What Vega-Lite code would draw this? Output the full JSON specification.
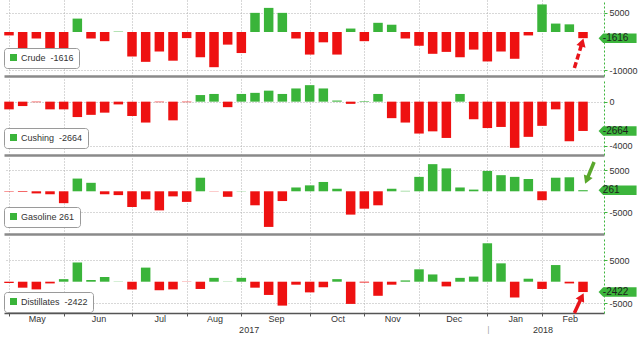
{
  "$schema": "https://vega.github.io/schema/vega-lite/v6.json",
  "padding": {"left": 3, "top": 0, "right": 0, "bottom": 0},
  "background": "white",
  "spacing": 3,
  "config": {
    "locale": {"number": {"decimal": ".", "thousands": ",", "grouping": [3], "currency": ["$", ""], "minus": "-"}},
    "view": {"stroke": null},
    "font": "Liberation Sans",
    "axis": {"labelFont": "Liberation Sans", "labelColor": "#333333", "labelFontSize": 9, "gridColor": "#b0b0b0", "gridDash": [1, 2], "gridWidth": 1},
    "legend": {"title": null, "fillColor": "white", "strokeColor": "#9a9a9a", "cornerRadius": 3, "padding": 5, "symbolType": "square", "symbolSize": 49, "symbolStrokeWidth": 0, "labelFont": "Liberation Sans", "labelFontSize": 9, "labelColor": "#333333", "labelOffset": 3}
  },
  "resolve": {"scale": {"color": "independent"}, "legend": {"color": "independent"}},
  "datasets": {
    "w": [
      {"i": 0, "week": "2017-04-28", "crude": -900, "cushing": -700, "gasoline": -100, "distillates": -300},
      {"i": 1, "week": "2017-05-05", "crude": -5200, "cushing": -400, "gasoline": -150, "distillates": -1400},
      {"i": 2, "week": "2017-05-12", "crude": -1700, "cushing": -50, "gasoline": -500, "distillates": -1800},
      {"i": 3, "week": "2017-05-19", "crude": -4400, "cushing": -700, "gasoline": -700, "distillates": -400},
      {"i": 4, "week": "2017-05-26", "crude": -6400, "cushing": -700, "gasoline": -2800, "distillates": 600},
      {"i": 5, "week": "2017-06-02", "crude": 3500, "cushing": -1400, "gasoline": 3000, "distillates": 4500},
      {"i": 6, "week": "2017-06-09", "crude": -1700, "cushing": -1200, "gasoline": 2000, "distillates": 400},
      {"i": 7, "week": "2017-06-16", "crude": -2400, "cushing": -1000, "gasoline": -700, "distillates": 1100},
      {"i": 8, "week": "2017-06-23", "crude": 100, "cushing": -250, "gasoline": -900, "distillates": 50},
      {"i": 9, "week": "2017-06-30", "crude": -6400, "cushing": -1300, "gasoline": -3700, "distillates": -1800},
      {"i": 10, "week": "2017-07-07", "crude": -7800, "cushing": -1900, "gasoline": -1900, "distillates": 3300},
      {"i": 11, "week": "2017-07-14", "crude": -5100, "cushing": -50, "gasoline": -4500, "distillates": -2000},
      {"i": 12, "week": "2017-07-21", "crude": -7500, "cushing": -1700, "gasoline": -1200, "distillates": -1800},
      {"i": 13, "week": "2017-07-28", "crude": -1600, "cushing": -50, "gasoline": -2500, "distillates": -50},
      {"i": 14, "week": "2017-08-04", "crude": -6600, "cushing": 600, "gasoline": 3200, "distillates": -1700},
      {"i": 15, "week": "2017-08-11", "crude": -9200, "cushing": 700, "gasoline": -50, "distillates": 900},
      {"i": 16, "week": "2017-08-18", "crude": -3300, "cushing": -500, "gasoline": -1300, "distillates": 50},
      {"i": 17, "week": "2017-08-25", "crude": -5500, "cushing": 700, "gasoline": 50, "distillates": 900},
      {"i": 18, "week": "2017-09-01", "crude": 5000, "cushing": 800, "gasoline": -3300, "distillates": -1400},
      {"i": 19, "week": "2017-09-08", "crude": 6300, "cushing": 1000, "gasoline": -8400, "distillates": -3100},
      {"i": 20, "week": "2017-09-15", "crude": 5000, "cushing": 700, "gasoline": -2300, "distillates": -5600},
      {"i": 21, "week": "2017-09-22", "crude": -1700, "cushing": 1200, "gasoline": 900, "distillates": -700},
      {"i": 22, "week": "2017-09-29", "crude": -5900, "cushing": 1500, "gasoline": 1400, "distillates": -2500},
      {"i": 23, "week": "2017-10-06", "crude": -2700, "cushing": 1200, "gasoline": 2200, "distillates": -1300},
      {"i": 24, "week": "2017-10-13", "crude": -5900, "cushing": 100, "gasoline": 600, "distillates": 600},
      {"i": 25, "week": "2017-10-20", "crude": 900, "cushing": -200, "gasoline": -5500, "distillates": -5200},
      {"i": 26, "week": "2017-10-27", "crude": -2400, "cushing": 50, "gasoline": -4100, "distillates": -200},
      {"i": 27, "week": "2017-11-03", "crude": 2400, "cushing": 700, "gasoline": -3300, "distillates": -3300},
      {"i": 28, "week": "2017-11-10", "crude": 1900, "cushing": -1500, "gasoline": 600, "distillates": -700},
      {"i": 29, "week": "2017-11-17", "crude": -1700, "cushing": -1900, "gasoline": 100, "distillates": 300},
      {"i": 30, "week": "2017-11-24", "crude": -3600, "cushing": -2900, "gasoline": 3400, "distillates": 2900},
      {"i": 31, "week": "2017-12-01", "crude": -5700, "cushing": -2700, "gasoline": 6400, "distillates": 1700},
      {"i": 32, "week": "2017-12-08", "crude": -5200, "cushing": -3300, "gasoline": 5400, "distillates": -1100},
      {"i": 33, "week": "2017-12-15", "crude": -6600, "cushing": 700, "gasoline": 900, "distillates": 900},
      {"i": 34, "week": "2017-12-22", "crude": -4600, "cushing": -1600, "gasoline": 400, "distillates": 1200},
      {"i": 35, "week": "2017-12-29", "crude": -7700, "cushing": -2400, "gasoline": 4800, "distillates": 9000},
      {"i": 36, "week": "2018-01-05", "crude": -5100, "cushing": -2300, "gasoline": 3800, "distillates": 4300},
      {"i": 37, "week": "2018-01-12", "crude": -7000, "cushing": -4200, "gasoline": 3400, "distillates": -3700},
      {"i": 38, "week": "2018-01-19", "crude": -900, "cushing": -3200, "gasoline": 2900, "distillates": 700},
      {"i": 39, "week": "2018-01-26", "crude": 7200, "cushing": -2200, "gasoline": -2100, "distillates": -1700},
      {"i": 40, "week": "2018-02-02", "crude": 2200, "cushing": -700, "gasoline": 3200, "distillates": 3900},
      {"i": 41, "week": "2018-02-09", "crude": 2000, "cushing": -3600, "gasoline": 3300, "distillates": -400},
      {"i": 42, "week": "2018-02-16", "crude": -1616, "cushing": -2664, "gasoline": 261, "distillates": -2422}
    ]
  },
  "vconcat": [
    {
      "width": 600, "height": 76,
      "layer": [
        {
          "data": {"name": "w"},
          "mark": {"type": "bar", "orient": "vertical", "width": 9.5, "clip": true},
          "encoding": {
            "x": {"field": "i", "type": "quantitative", "scale": {"domain": [0, 43.17], "nice": false, "zero": false},
                  "axis": {"title": null, "values": [0, 4, 9, 13, 17, 22, 26, 30, 35, 39], "labels": false, "ticks": false, "grid": true, "domainColor": "#8a8a8a", "domainWidth": 2.5}},
            "y": {"field": "crude", "type": "quantitative", "scale": {"domain": [-11500, 8360], "nice": false, "zero": false},
                  "axis": {"title": null, "orient": "right", "values": [-10000, -5000, 0, 5000], "format": "d", "grid": true, "tickSize": 3, "tickColor": "#3cb53c", "domainColor": "#3cb53c", "domainDash": [2, 2], "labelPadding": 2}},
            "y2": {"datum": 0},
            "color": {"datum": "Crude", "type": "nominal", "scale": {"range": ["#3ab43a"]},
                      "legend": {"orient": "none", "legendX": 0, "legendY": 48, "labelExpr": "'Crude\u00a0 -1616'"},
                      "condition": {"test": "datum.crude < 0", "value": "#ee1111"}}
          }
        },
        {
          "data": {"name": "w"}, "transform": [{"filter": "datum.i == 42"}],
          "mark": {"type": "point", "shape": "M-1,0L-0.76,-0.25L1,-0.25L1,0.25L-0.76,0.25Z", "filled": true, "size": 1444, "color": "#3cb53c", "opacity": 1, "strokeWidth": 0},
          "encoding": {"x": {"datum": 44.53}, "y": {"field": "crude", "type": "quantitative"}}
        },
        {
          "data": {"name": "w"}, "transform": [{"filter": "datum.i == 42"}],
          "mark": {"type": "text", "align": "left", "baseline": "middle", "fontSize": 10, "color": "#1e1e1e"},
          "encoding": {"x": {"datum": 43.45}, "y": {"field": "crude", "type": "quantitative"}, "text": {"field": "crude", "type": "quantitative", "format": "d"}}
        },
        {
          "data": {"values": [{"i": 41.37, "v": -9410, "i2": 41.94, "v2": -2740}]},
          "mark": {"type": "rule", "color": "#e8141a", "strokeWidth": 3.5, "strokeDash": [6, 3]},
          "encoding": {"x": {"field": "i", "type": "quantitative"}, "y": {"field": "v", "type": "quantitative"}, "x2": {"field": "i2"}, "y2": {"field": "v2"}}
        },
        {
          "data": {"values": [{"i": 41.94, "v": -2740}]},
          "mark": {"type": "point", "shape": "triangle-up", "filled": true, "size": 90, "angle": 17, "color": "#e8141a", "opacity": 1},
          "encoding": {"x": {"field": "i", "type": "quantitative"}, "y": {"field": "v", "type": "quantitative"}}
        }
      ]
    },
    {
      "width": 600, "height": 76,
      "layer": [
        {
          "data": {"name": "w"},
          "mark": {"type": "bar", "orient": "vertical", "width": 9.5, "clip": true},
          "encoding": {
            "x": {"field": "i", "type": "quantitative", "scale": {"domain": [0, 43.17], "nice": false, "zero": false},
                  "axis": {"title": null, "values": [0, 4, 9, 13, 17, 22, 26, 30, 35, 39], "labels": false, "ticks": false, "grid": true, "domainColor": "#8a8a8a", "domainWidth": 2.5}},
            "y": {"field": "cushing", "type": "quantitative", "scale": {"domain": [-4850, 2060], "nice": false, "zero": false},
                  "axis": {"title": null, "orient": "right", "values": [-4000, -2000, 0], "format": "d", "grid": true, "tickSize": 3, "tickColor": "#3cb53c", "domainColor": "#3cb53c", "domainDash": [2, 2], "labelPadding": 2}},
            "y2": {"datum": 0},
            "color": {"datum": "Cushing", "type": "nominal", "scale": {"range": ["#3ab43a"]},
                      "legend": {"orient": "none", "legendX": 0, "legendY": 49, "labelExpr": "'Cushing\u00a0 -2664'"},
                      "condition": {"test": "datum.cushing < 0", "value": "#ee1111"}}
          }
        },
        {
          "data": {"name": "w"}, "transform": [{"filter": "datum.i == 42"}],
          "mark": {"type": "point", "shape": "M-1,0L-0.76,-0.25L1,-0.25L1,0.25L-0.76,0.25Z", "filled": true, "size": 1444, "color": "#3cb53c", "opacity": 1, "strokeWidth": 0},
          "encoding": {"x": {"datum": 44.53}, "y": {"field": "cushing", "type": "quantitative"}}
        },
        {
          "data": {"name": "w"}, "transform": [{"filter": "datum.i == 42"}],
          "mark": {"type": "text", "align": "left", "baseline": "middle", "fontSize": 10, "color": "#1e1e1e"},
          "encoding": {"x": {"datum": 43.45}, "y": {"field": "cushing", "type": "quantitative"}, "text": {"field": "cushing", "type": "quantitative", "format": "d"}}
        }
      ]
    },
    {
      "width": 600, "height": 76,
      "layer": [
        {
          "data": {"name": "w"},
          "mark": {"type": "bar", "orient": "vertical", "width": 9.5, "clip": true},
          "encoding": {
            "x": {"field": "i", "type": "quantitative", "scale": {"domain": [0, 43.17], "nice": false, "zero": false},
                  "axis": {"title": null, "values": [0, 4, 9, 13, 17, 22, 26, 30, 35, 39], "labels": false, "ticks": false, "grid": true, "domainColor": "#8a8a8a", "domainWidth": 2.5}},
            "y": {"field": "gasoline", "type": "quantitative", "scale": {"domain": [-10070, 7850], "nice": false, "zero": false},
                  "axis": {"title": null, "orient": "right", "values": [-5000, 0, 5000], "format": "d", "grid": true, "tickSize": 3, "tickColor": "#3cb53c", "domainColor": "#3cb53c", "domainDash": [2, 2], "labelPadding": 2}},
            "y2": {"datum": 0},
            "color": {"datum": "Gasoline", "type": "nominal", "scale": {"range": ["#3ab43a"]},
                      "legend": {"orient": "none", "legendX": 0, "legendY": 49, "labelExpr": "'Gasoline 261'"},
                      "condition": {"test": "datum.gasoline < 0", "value": "#ee1111"}}
          }
        },
        {
          "data": {"name": "w"}, "transform": [{"filter": "datum.i == 42"}],
          "mark": {"type": "point", "shape": "M-1,0L-0.76,-0.25L1,-0.25L1,0.25L-0.76,0.25Z", "filled": true, "size": 1444, "color": "#3cb53c", "opacity": 1, "strokeWidth": 0},
          "encoding": {"x": {"datum": 44.53}, "y": {"field": "gasoline", "type": "quantitative"}}
        },
        {
          "data": {"name": "w"}, "transform": [{"filter": "datum.i == 42"}],
          "mark": {"type": "text", "align": "left", "baseline": "middle", "fontSize": 10, "color": "#1e1e1e"},
          "encoding": {"x": {"datum": 43.45}, "y": {"field": "gasoline", "type": "quantitative"}, "text": {"field": "gasoline", "type": "quantitative", "format": "d"}}
        },
        {
          "data": {"values": [{"i": 42.81, "v": 6910, "i2": 42.27, "v2": 2670}]},
          "mark": {"type": "rule", "color": "#5aa82c", "strokeWidth": 3.5},
          "encoding": {"x": {"field": "i", "type": "quantitative"}, "y": {"field": "v", "type": "quantitative"}, "x2": {"field": "i2"}, "y2": {"field": "v2"}}
        },
        {
          "data": {"values": [{"i": 42.27, "v": 2670}]},
          "mark": {"type": "point", "shape": "triangle-down", "filled": true, "size": 90, "angle": 22, "color": "#5aa82c", "opacity": 1},
          "encoding": {"x": {"field": "i", "type": "quantitative"}, "y": {"field": "v", "type": "quantitative"}}
        }
      ]
    },
    {
      "width": 600, "height": 76,
      "layer": [
        {
          "data": {"name": "w"},
          "mark": {"type": "bar", "orient": "vertical", "width": 9.5, "clip": true},
          "encoding": {
            "x": {"field": "i", "type": "quantitative", "scale": {"domain": [0, 43.17], "nice": false, "zero": false},
                  "axis": {"title": null,
                           "values": [0, 4, 9, 13, 15.5, 17, 22, 26, 30, 33, 35, 37, 39],
                           "labelExpr": "datum.value==0?'May':datum.value==4?'Jun':datum.value==9?'Jul':datum.value==13?'Aug':datum.value==17?'Sep':datum.value==22?'Oct':datum.value==26?'Nov':datum.value==30?'Dec':datum.value==35?'Jan':datum.value==39?'Feb':datum.value==15.5?['','2017']:datum.value==37?['','2018']:datum.value==33?['','|']:''",
                           "grid": true,
                           "gridOpacity": {"condition": {"test": "indexof([0,4,9,13,17,22,26,30,35,39], datum.value) >= 0", "value": 1}, "value": 0},
                           "ticks": true, "tickSize": 3, "tickColor": "#555555",
                           "tickOpacity": {"condition": {"test": "indexof([0,4,9,13,17,22,26,30,35,39], datum.value) >= 0", "value": 1}, "value": 0},
                           "labelColor": {"condition": {"test": "datum.value == 33", "value": "#aaaaaa"}, "value": "#333333"},
                           "labelOffset": {"condition": {"test": "indexof([4,17,30], datum.value) >= 0", "value": 34.75}, "value": 27.8},
                           "domainColor": "#555555", "domainWidth": 1.5,
                           "labelPadding": -2, "labelLineHeight": 11, "labelOverlap": false, "labelFlush": false, "labelBound": false}},
            "y": {"field": "distillates", "type": "quantitative", "scale": {"domain": [-7330, 10470], "nice": false, "zero": false},
                  "axis": {"title": null, "orient": "right", "values": [-5000, 0, 5000], "format": "d", "grid": true, "tickSize": 3, "tickColor": "#3cb53c", "domainColor": "#3cb53c", "domainDash": [2, 2], "labelPadding": 2}},
            "y2": {"datum": 0},
            "color": {"datum": "Distillates", "type": "nominal", "scale": {"range": ["#3ab43a"]},
                      "legend": {"orient": "none", "legendX": 0, "legendY": 55, "labelExpr": "'Distillates\u00a0 -2422'"},
                      "condition": {"test": "datum.distillates < 0", "value": "#ee1111"}}
          }
        },
        {
          "data": {"name": "w"}, "transform": [{"filter": "datum.i == 42"}],
          "mark": {"type": "point", "shape": "M-1,0L-0.76,-0.25L1,-0.25L1,0.25L-0.76,0.25Z", "filled": true, "size": 1444, "color": "#3cb53c", "opacity": 1, "strokeWidth": 0},
          "encoding": {"x": {"datum": 44.53}, "y": {"field": "distillates", "type": "quantitative"}}
        },
        {
          "data": {"name": "w"}, "transform": [{"filter": "datum.i == 42"}],
          "mark": {"type": "text", "align": "left", "baseline": "middle", "fontSize": 10, "color": "#1e1e1e"},
          "encoding": {"x": {"datum": 43.45}, "y": {"field": "distillates", "type": "quantitative"}, "text": {"field": "distillates", "type": "quantitative", "format": "d"}}
        },
        {
          "data": {"values": [{"i": 41.37, "v": -7330, "i2": 41.91, "v2": -3580}]},
          "mark": {"type": "rule", "color": "#e8141a", "strokeWidth": 3.5},
          "encoding": {"x": {"field": "i", "type": "quantitative"}, "y": {"field": "v", "type": "quantitative"}, "x2": {"field": "i2"}, "y2": {"field": "v2"}}
        },
        {
          "data": {"values": [{"i": 41.91, "v": -3580}]},
          "mark": {"type": "point", "shape": "triangle-up", "filled": true, "size": 90, "angle": 27, "color": "#e8141a", "opacity": 1},
          "encoding": {"x": {"field": "i", "type": "quantitative"}, "y": {"field": "v", "type": "quantitative"}}
        }
      ]
    }
  ]
}
